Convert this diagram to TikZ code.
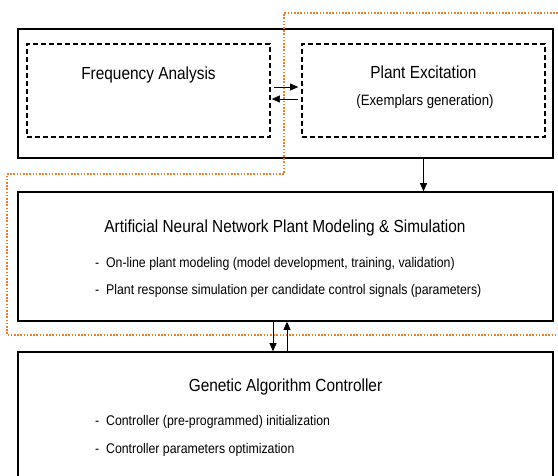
\documentclass[tikz,border=0pt]{standalone}
\usepackage{fontspec}
\setmainfont[FakeStretch=0.88]{Liberation Sans}
\usetikzlibrary{calc,arrows.meta}
\definecolor{dotorange}{RGB}{237,125,49}

\begin{document}
\begin{tikzpicture}[x=1pt,y=-1pt,
	box/.style={draw,line width=1.6pt,minimum width=535pt,minimum height=129pt,inner sep=0pt},
	subbox/.style={draw,line width=1.7pt,dash pattern=on 5pt off 3pt,minimum width=243pt,minimum height=93pt,inner sep=0pt},
	head/.style={font=\fontsize{17.5}{20}\selectfont,anchor=base,inner sep=0pt},
	sub/.style={font=\fontsize{15}{17}\selectfont,anchor=base,inner sep=0pt},
	item/.style={font=\fontsize{14}{17}\selectfont,anchor=base west,inner sep=0pt},
	arr/.style={line width=0.6pt,-{Triangle[length=8pt,width=7pt]}}]
\clip (0,0) rectangle (558,475);
\useasboundingbox (0,0) rectangle (558,475);
\fill[white] (0,0) rectangle (558,475);

\node[box] (top) at (285.5,93.5) {};
\node[subbox] (fa) at (148.5,90.5) {};
\node[subbox] (pe) at (423.5,90.5) {};
\node[box] (mid) at (285.5,256.5) {};
\node[box] (bot) at (285.5,416.5) {};

\draw[dotorange,line width=1.6pt,dash pattern=on 1.6pt off 1.6pt]
	(558,13) -- (284,13) -- (284,174) -- (7,174) -- (7,335) -- (558,335);

\node[head] (fatxt) at (148.5,79) {Frequency Analysis};
\node[head] (petxt) at (423.5,78) {Plant Excitation};
\node[sub] (pesub) at (425,105) {(Exemplars generation)};
\node[head] (anntxt) at (285,232) {Artificial Neural Network Plant Modeling \& Simulation};
\node[item] (ann1) at (95,267) {-\ \ On-line plant modeling (model development, training, validation)};
\node[item] (ann2) at (95,294) {-\ \ Plant response simulation per candidate control signals (parameters)};
\node[head] (gatxt) at (285.5,391) {Genetic Algorithm Controller};
\node[item] (ga1) at (95,425) {-\ \ Controller (pre-programmed) initialization};
\node[item] (ga2) at (95,453) {-\ \ Controller parameters optimization};

\draw[arr,shorten <=3pt,shorten >=3pt] ([yshift=3.5pt]fa.east) -- ([yshift=3.5pt]pe.west);
\draw[arr,shorten <=3pt,shorten >=1pt] ([yshift=-8.5pt]pe.west) -- ([yshift=-8.5pt]fa.east);
\draw[arr] (top.south -| pe.center) -- (mid.north -| pe.center);
\draw[arr] ([xshift=-12.5pt]mid.south) -- ([xshift=-12.5pt]bot.north);
\draw[arr] ([xshift=1.5pt]bot.north) -- ([xshift=1.5pt]mid.south);
\end{tikzpicture}
\end{document}
